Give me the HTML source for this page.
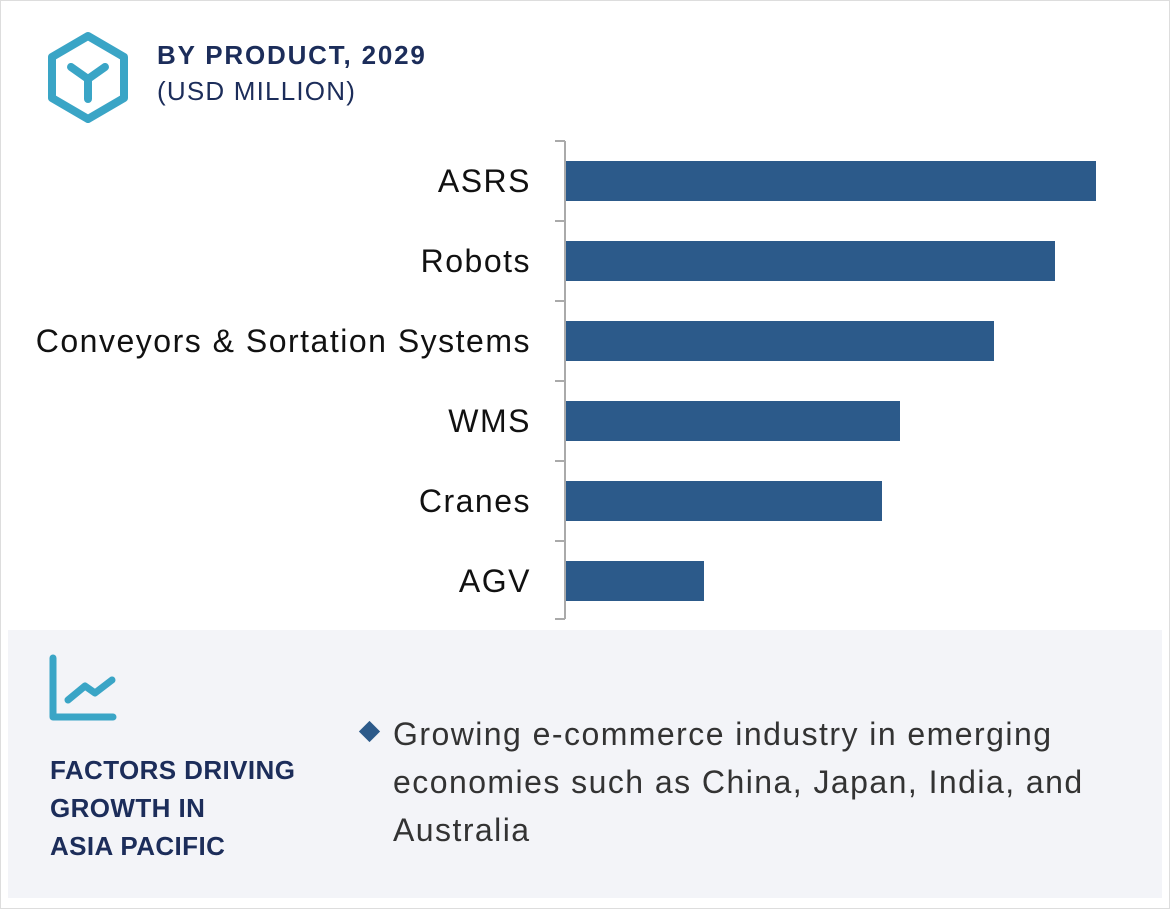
<!DOCTYPE html>
<html><head><meta charset="utf-8"><style>
body{margin:0;width:1170px;height:909px;background:#fff;font-family:"Liberation Sans",sans-serif;overflow:hidden;position:relative}
.abs{position:absolute}
</style></head><body>
<div class="abs" style="left:0;top:0;width:1168px;height:907px;border:1px solid #ddd"></div>
<svg class="abs" style="top:28px;left:38px" width="100" height="100" viewBox="0 0 100 100">
<polygon points="50,8 86,29 86,70 50,91 14,70 14,29" fill="none" stroke="#3aa5c6" stroke-width="8" stroke-linejoin="round"/>
<path d="M33,39 L50,51 L67,39 M50,51 L50,71" fill="none" stroke="#3aa5c6" stroke-width="8" stroke-linecap="round" stroke-linejoin="round"/>
</svg>
<div class="abs" style="left:157px;top:40px;font-size:26px;font-weight:bold;color:#1c2d5a;letter-spacing:1.8px">BY PRODUCT, 2029</div>
<div class="abs" style="left:157px;top:76px;font-size:26px;color:#1c2d5a;letter-spacing:1.2px">(USD MILLION)</div>
<svg id="chart" class="abs" style="left:0;top:0" width="1170" height="630"></svg>
<div class="abs" style="left:8px;top:630px;width:1154px;height:268px;background:#f3f4f8"></div>
<svg class="abs" style="left:40px;top:650px" width="90" height="80" viewBox="0 0 90 80">
<path d="M13,8 L13,67 L73,67" fill="none" stroke="#3aa5c6" stroke-width="7" stroke-linecap="round" stroke-linejoin="round"/>
<path d="M28,50 L45,36 L55,43 L72,30" fill="none" stroke="#3aa5c6" stroke-width="7" stroke-linecap="round" stroke-linejoin="round"/>
</svg>
<div class="abs" style="left:50px;top:751px;font-size:26px;font-weight:bold;color:#1c2d5a;line-height:38px;letter-spacing:0.4px">FACTORS DRIVING<br>GROWTH IN<br>ASIA PACIFIC</div>
<div class="abs" style="left:362px;top:724px;width:15px;height:15px;background:#2c5a8a;transform:rotate(45deg)"></div>
<div class="abs" style="left:393px;top:710px;font-size:32px;color:#333;line-height:48px;width:740px;letter-spacing:1.45px">Growing e-commerce industry in emerging economies such as China, Japan, India, and Australia</div>
<script>
const categories=["ASRS","Robots","Conveyors & Sortation Systems","WMS","Cranes","AGV"];
const values=[530,489,428,334,316,138];
const svg=document.getElementById('chart');
const NS='http://www.w3.org/2000/svg';
const x0=565,top0=141,band=80,xs=v=>v*1.0;
function mk(t,a){const e=document.createElementNS(NS,t);for(const k in a)e.setAttribute(k,a[k]);svg.appendChild(e);return e;}
const ax=mk('line',{x1:x0,y1:top0,x2:x0,y2:top0+band*categories.length-2,stroke:'#aaa','stroke-width':2});


for(let i=0;i<=categories.length;i++){
 const y=Math.min(top0+i*band,top0+band*categories.length-2);
 const t=mk('line',{x1:x0-10,y1:y,x2:x0,y2:y,stroke:'#aaa','stroke-width':2});
 
 
}
categories.forEach((c,i)=>{
 const cy=top0+i*band+40;
 const r=mk('rect',{x:x0+1,y:cy-20,width:xs(values[i]),height:40,fill:'#2c5a8a'});
 
 
 const t=mk('text',{x:531,y:cy+11,'text-anchor':'end','font-size':32,fill:'#111','font-family':'Liberation Sans, sans-serif','letter-spacing':'1.5'});
 t.textContent=c;
 
 
});
</script>
</body></html>
